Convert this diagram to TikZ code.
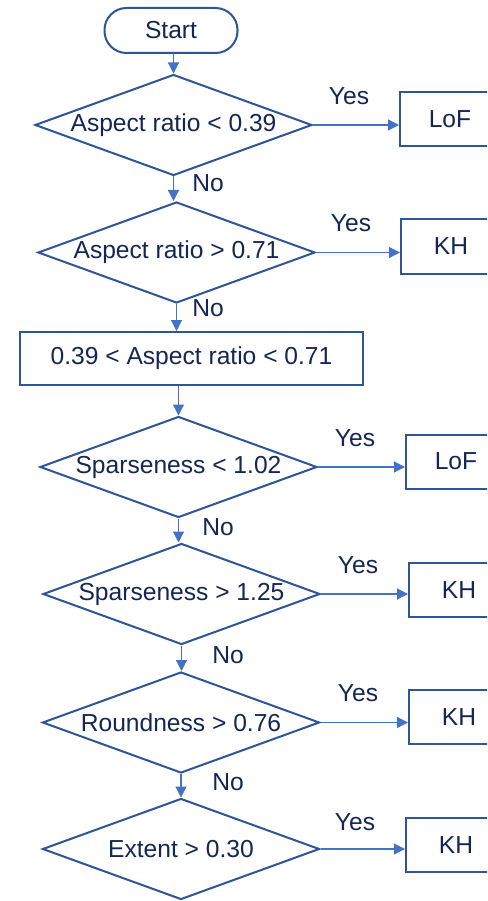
\documentclass[tikz,border=0pt]{standalone}
\usepackage{fontspec}
\setmainfont{Liberation Sans}
\usetikzlibrary{shapes.geometric,arrows.meta}
\definecolor{outl}{RGB}{47,85,151}
\definecolor{arr}{RGB}{68,114,196}
\definecolor{txt}{RGB}{22,38,84}
\tikzset{
  base/.style={draw=outl,line width=2pt,text=txt,inner sep=0pt,font=\fontsize{24.6}{28}\selectfont},
  startbox/.style={base,rectangle,rounded corners=22pt,minimum width=133pt,minimum height=45pt},
  decision/.style={base,diamond,aspect=2.8,minimum width=277pt,minimum height=101pt},
  procbox/.style={base,rectangle,minimum width=343pt,minimum height=53pt},
  resbox/.style={base,rectangle,minimum width=100pt,minimum height=54pt},
  conn/.style={draw=arr,line width=1.2pt,-{Triangle[length=11pt,width=11pt]}},
  lbl/.style={text=txt,inner sep=0pt,font=\fontsize{24.6}{28}\selectfont}
}
\begin{document}
\begin{tikzpicture}[x=1pt,y=-1pt]
\useasboundingbox (0,0) rectangle (487,901);
\clip (0,0) rectangle (487,901);
\fill[white] (0,0) rectangle (487,901);
\node[startbox] (start) at (171,30.5) {Start};
\node[decision] (d1) at (173.5,125) {Aspect ratio < 0.39};
\node[decision] (d2) at (176.5,252.5) {Aspect ratio > 0.71};
\node[procbox] (mid) at (191.5,358.5) {0.39 < Aspect ratio < 0.71};
\node[decision] (d3) at (178.5,467) {Sparseness < 1.02};
\node[decision] (d4) at (181.5,594) {Sparseness > 1.25};
\node[decision] (d5) at (181,722.5) {Roundness > 0.76};
\node[decision] (d6) at (181,849) {Extent > 0.30};
\node[resbox] (r1) at (450,119.5) {LoF};
\node[resbox] (r2) at (451,246.5) {KH};
\node[resbox] (r3) at (456,461.5) {LoF};
\node[resbox] (r4) at (459,590) {KH};
\node[resbox] (r5) at (459,717) {KH};
\node[resbox] (r6) at (456,845) {KH};
\draw[conn] (start.south -| d1.north) -- (d1.north);
\draw[conn] (d1.south) -- (d1.south |- d2.north);
\draw[conn] (d2.south) -- (d2.south |- mid.north);
\draw[conn] (mid.south -| d3.north) -- (d3.north);
\draw[conn] (d3.south) -- (d3.south |- d4.north);
\draw[conn] (d4.south) -- (d4.south |- d5.north);
\draw[conn] (d5.south) -- (d5.south |- d6.north);
\draw[conn] (d1.east) -- (d1.east -| r1.west);
\draw[conn] (d2.east) -- (d2.east -| r2.west);
\draw[conn] (d3.east) -- (d3.east -| r3.west);
\draw[conn] (d4.east) -- (d4.east -| r4.west);
\draw[conn] (d5.east) -- (d5.east -| r5.west);
\draw[conn] (d6.east) -- (d6.east -| r6.west);
\node[lbl] (y1) at (349,96) {Yes};
\node[lbl] (y2) at (351,223) {Yes};
\node[lbl] (y3) at (355,438) {Yes};
\node[lbl] (y4) at (358,565) {Yes};
\node[lbl] (y5) at (358,693) {Yes};
\node[lbl] (y6) at (355,822) {Yes};
\node[lbl] (n1) at (208,183) {No};
\node[lbl] (n2) at (208,308) {No};
\node[lbl] (n3) at (218,527) {No};
\node[lbl] (n4) at (228,655) {No};
\node[lbl] (n5) at (228,782) {No};
\end{tikzpicture}
\end{document}
